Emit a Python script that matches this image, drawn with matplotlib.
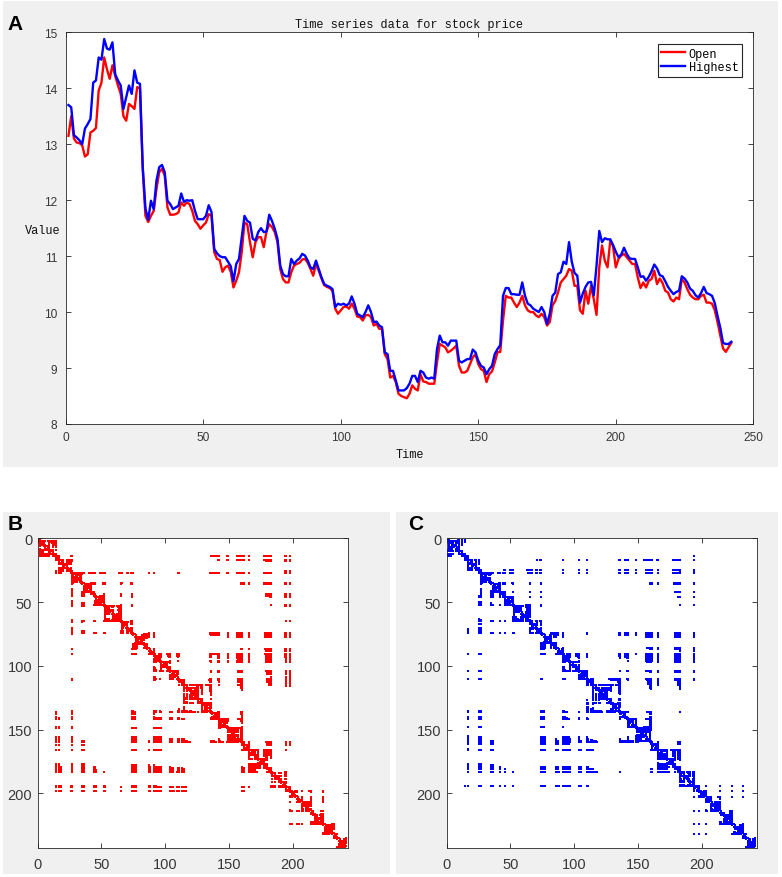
import numpy as np
import matplotlib
matplotlib.use("Agg")
import matplotlib.pyplot as plt
from matplotlib.patches import Rectangle

# Daily stock prices (t = 1..242)
open_price = [
    13.15, 13.50, 13.10, 13.03, 13.02, 12.98, 12.78, 12.82, 13.21, 13.24,
    13.29, 13.96, 14.10, 14.55, 14.34, 14.17, 14.41, 14.22, 14.05, 13.90,
    13.50, 13.42, 13.72, 13.68, 13.63, 14.02, 14.00, 12.56, 11.72, 11.61,
    11.72, 11.81, 12.20, 12.50, 12.56, 12.44, 11.87, 11.74, 11.74, 11.75,
    11.78, 11.96, 11.90, 11.96, 11.93, 11.81, 11.63, 11.57, 11.49, 11.55,
    11.60, 11.75, 11.72, 11.07, 10.95, 10.93, 10.72, 10.80, 10.83, 10.72,
    10.44, 10.56, 10.71, 11.07, 11.60, 11.57, 11.25, 10.98, 11.25, 11.34,
    11.34, 11.16, 11.44, 11.57, 11.52, 11.43, 11.25, 10.77, 10.59, 10.53,
    10.53, 10.71, 10.83, 10.86, 10.88, 10.94, 10.95, 10.88, 10.77, 10.65,
    10.86, 10.74, 10.60, 10.48, 10.45, 10.43, 10.38, 10.06, 9.97, 10.03,
    10.09, 10.10, 10.06, 10.15, 10.06, 9.92, 9.91, 9.85, 9.94, 9.95,
    9.91, 9.76, 9.79, 9.70, 9.70, 9.25, 9.16, 8.83, 8.86, 8.75,
    8.54, 8.50, 8.48, 8.46, 8.54, 8.69, 8.63, 8.60, 8.89, 8.76,
    8.75, 8.72, 8.72, 8.72, 9.10, 9.43, 9.40, 9.37, 9.28, 9.31,
    9.35, 9.40, 9.04, 8.92, 8.92, 8.95, 9.07, 9.19, 9.25, 9.07,
    8.98, 8.95, 8.75, 8.89, 8.94, 9.10, 9.28, 9.29, 9.85, 10.29,
    10.26, 10.26, 10.17, 10.09, 10.17, 10.29, 10.12, 10.03, 10.00, 10.00,
    9.94, 9.91, 9.97, 9.91, 9.76, 9.82, 10.12, 10.20, 10.35, 10.53,
    10.59, 10.65, 10.77, 10.74, 10.47, 10.47, 10.03, 9.97, 10.38, 10.15,
    10.47, 10.23, 9.95, 10.80, 11.19, 10.92, 10.80, 11.28, 11.18, 10.80,
    10.95, 11.01, 11.04, 10.98, 10.92, 10.86, 10.86, 10.62, 10.43, 10.53,
    10.44, 10.56, 10.59, 10.74, 10.50, 10.60, 10.52, 10.38, 10.35, 10.23,
    10.19, 10.26, 10.23, 10.59, 10.53, 10.41, 10.31, 10.26, 10.23, 10.23,
    10.29, 10.31, 10.17, 10.17, 10.15, 10.03, 9.82, 9.58, 9.35, 9.29,
    9.37, 9.45,
]

high_price = [
    13.70, 13.66, 13.16, 13.12, 13.07, 13.00, 13.28, 13.36, 13.45, 14.10,
    14.14, 14.55, 14.51, 14.88, 14.71, 14.69, 14.82, 14.25, 14.14, 14.05,
    13.63, 13.84, 14.05, 13.90, 14.32, 14.10, 14.08, 12.60, 11.85, 11.65,
    11.99, 11.84, 12.35, 12.59, 12.63, 12.50, 11.99, 11.93, 11.84, 11.87,
    11.90, 12.12, 11.97, 12.00, 11.99, 12.00, 11.81, 11.66, 11.66, 11.66,
    11.72, 11.91, 11.79, 11.13, 11.05, 11.00, 10.98, 10.98, 10.90, 10.82,
    10.55, 10.86, 10.95, 11.34, 11.72, 11.63, 11.60, 11.31, 11.28, 11.43,
    11.50, 11.43, 11.44, 11.74, 11.63, 11.49, 11.31, 10.83, 10.68, 10.64,
    10.64, 10.95, 10.86, 10.92, 10.96, 11.04, 11.01, 10.92, 10.80, 10.77,
    10.92, 10.77, 10.62, 10.50, 10.47, 10.45, 10.41, 10.09, 10.15, 10.13,
    10.15, 10.12, 10.15, 10.28, 10.15, 9.97, 9.94, 9.91, 10.00, 10.12,
    10.00, 9.82, 9.83, 9.76, 9.73, 9.28, 9.25, 8.95, 8.95, 8.78,
    8.60, 8.60, 8.60, 8.64, 8.72, 8.86, 8.86, 8.75, 8.95, 8.92,
    8.83, 8.81, 8.83, 8.81, 9.34, 9.58, 9.46, 9.46, 9.40, 9.49,
    9.49, 9.49, 9.13, 9.10, 9.13, 9.16, 9.16, 9.33, 9.28, 9.13,
    9.04, 9.01, 8.89, 8.98, 9.04, 9.25, 9.34, 9.41, 10.29, 10.43,
    10.43, 10.32, 10.32, 10.31, 10.31, 10.53, 10.29, 10.15, 10.12, 10.06,
    10.03, 10.00, 10.09, 10.00, 9.79, 9.97, 10.29, 10.35, 10.68, 10.71,
    10.90, 10.86, 11.25, 10.90, 10.70, 10.65, 10.17, 10.33, 10.45, 10.53,
    10.54, 10.30, 10.83, 11.45, 11.25, 11.32, 11.30, 11.30, 11.20, 11.08,
    10.98, 11.03, 11.15, 11.04, 10.96, 10.95, 10.95, 10.80, 10.63, 10.64,
    10.56, 10.63, 10.73, 10.85, 10.78, 10.66, 10.64, 10.55, 10.45, 10.38,
    10.32, 10.36, 10.38, 10.64, 10.60, 10.53, 10.42, 10.38, 10.30, 10.26,
    10.34, 10.45, 10.34, 10.32, 10.29, 10.16, 9.93, 9.72, 9.45, 9.43,
    9.43, 9.47,
]

series_names = ['Open', 'Highest']
ticks_rp = [0, 50, 100, 150, 200]

W, H = 782, 878
GREY = '#f0f0f0'
DARK = '#262626'
MONO = 'Liberation Mono'
SANS = 'Liberation Sans'


def visibility_matrix(x):
    # natural visibility graph adjacency of a time series
    x = np.asarray(x)
    n = len(x)
    A = np.zeros((n, n), dtype=bool)
    for a in range(n - 1):
        for b in range(a + 1, n):
            c = np.arange(a + 1, b)
            line = x[b] + (x[a] - x[b]) * (b - c) / (b - a)
            if np.all(x[c] < line):
                A[a, b] = A[b, a] = True
    return A


def style_axes(ax, labelsize):
    ax.tick_params(direction='in', top=True, right=True, length=3.5,
                   width=0.6, color=DARK, labelcolor='#383838',
                   labelsize=labelsize)
    for s in ax.spines.values():
        s.set_linewidth(0.6)
        s.set_color(DARK)
    for lab in ax.get_xticklabels() + ax.get_yticklabels():
        lab.set_fontfamily(SANS)


def px_rect(x0, y0, x1, y1):
    return [x0 / W, 1 - y1 / H, (x1 - x0) / W, (y1 - y0) / H]


fig = plt.figure(figsize=(W / 100, H / 100), dpi=100)

# grey panel backgrounds
for x0, y0, x1, y1 in [(3, 2, 778, 468), (3, 513, 390, 875), (396, 513, 778, 875)]:
    fig.add_artist(Rectangle((x0 / W, 1 - y1 / H), (x1 - x0) / W, (y1 - y0) / H,
                             transform=fig.transFigure, facecolor=GREY,
                             edgecolor='none', zorder=-10))

# Panel A: time series
t = np.arange(1, len(open_price) + 1)
ax = fig.add_axes(px_rect(65.7, 33.3, 753.3, 425))
ax.plot(t, open_price, color='red', lw=1.7, label=series_names[0])
ax.plot(t, high_price, color='blue', lw=1.7, label=series_names[1])
ax.set_xlim(0, 250)
ax.set_ylim(8, 15)
ax.set_xticks([0, 50, 100, 150, 200, 250])
ax.set_yticks(range(8, 16))
style_axes(ax, 8.6)
ax.tick_params(axis='y', pad=6)
ax.tick_params(axis='x', pad=5)
ax.set_title('Time series data for stock price', fontfamily=MONO,
             fontsize=8.6, pad=4, color='#111111')
ax.set_xlabel('Time', fontfamily=MONO, fontsize=8.6, labelpad=4, color='#111111')
ax.set_ylabel('Value', fontfamily=MONO, fontsize=8.6, rotation=0,
              ha='center', va='center', color='#111111')
ax.yaxis.set_label_coords(-0.033, 0.495)
leg = ax.legend(loc='upper right', bbox_to_anchor=(0.9836, 0.970),
                borderaxespad=0, prop={'family': MONO, 'size': 8.6},
                fancybox=False, framealpha=1, edgecolor=DARK,
                handlelength=2.0, handletextpad=0.3, labelspacing=0.15,
                borderpad=0.3)
leg.get_frame().set_linewidth(0.8)

fig.text(15 / W, 1 - 25 / H, 'A', fontfamily=SANS, fontweight='bold',
         fontsize=15, ha='center', va='center')

# Panels B and C: visibility-graph matrices
for series, color, left, tag, tagx in [(open_price, 'red', 37.7, 'B', 15),
                                        (high_price, 'blue', 446.7, 'C', 416)]:
    A = visibility_matrix(series)
    rows, cols = np.nonzero(A)
    axr = fig.add_axes(px_rect(left, 539.3, left + 310, 849.3))
    axr.scatter(cols + 1, rows + 1, marker='s', s=3.2, color=color,
                linewidths=0)
    axr.set_xlim(0, len(series) + 1)
    axr.set_ylim(len(series) + 1, 0)
    axr.set_xticks(ticks_rp)
    axr.set_yticks(ticks_rp)
    style_axes(axr, 10.5)
    axr.tick_params(axis='y', pad=4)
    axr.tick_params(axis='x', pad=6)
    fig.text(tagx / W, 1 - 525 / H, tag, fontfamily=SANS, fontweight='bold',
             fontsize=15, ha='center', va='center')

fig.savefig('out.png', dpi=100, facecolor='white')
